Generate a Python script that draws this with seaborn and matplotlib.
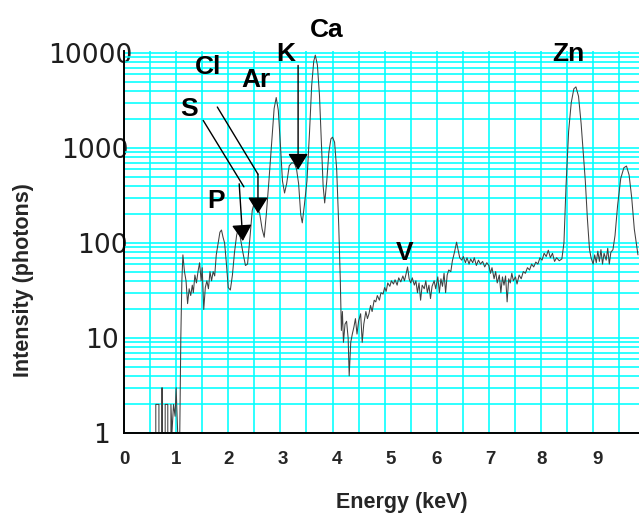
import matplotlib
matplotlib.use("Agg")
import matplotlib.pyplot as plt
import matplotlib.ticker as mticker
import matplotlib.transforms as mtrans
import seaborn as sns
import pandas as pd

# ---- data ----
energy_kev = [
    0.60, 0.61, 0.67, 0.69, 0.73, 0.75, 0.79, 0.84, 0.86, 0.89, 0.90, 0.92, 0.95, 0.98,
    1.00, 1.03, 1.05, 1.07, 1.09, 1.11, 1.13, 1.16, 1.19, 1.22, 1.25, 1.28, 1.31, 1.33,
    1.36, 1.39, 1.42, 1.45, 1.48, 1.50, 1.53, 1.56, 1.59, 1.62, 1.65, 1.68, 1.71, 1.74,
    1.77, 1.80, 1.84, 1.87, 1.90, 1.93, 1.96, 2.00, 2.04, 2.08, 2.12, 2.16, 2.19, 2.23,
    2.28, 2.33, 2.37, 2.42, 2.46, 2.50, 2.55, 2.60, 2.65, 2.69, 2.73, 2.78, 2.83, 2.88,
    2.92, 2.96, 3.00, 3.04, 3.08, 3.12, 3.17, 3.22, 3.27, 3.31, 3.35, 3.39, 3.42, 3.46,
    3.51, 3.56, 3.60, 3.64, 3.67, 3.71, 3.75, 3.79, 3.82, 3.85, 3.89, 3.93, 3.97, 4.00,
    4.04, 4.08, 4.12, 4.15, 4.17, 4.19, 4.21, 4.24, 4.27, 4.30, 4.32, 4.35, 4.38, 4.41,
    4.44, 4.47, 4.50, 4.54, 4.57, 4.60, 4.64, 4.67, 4.70, 4.73, 4.76, 4.80, 4.83, 4.86,
    4.90, 4.93, 4.97, 5.00, 5.03, 5.06, 5.10, 5.13, 5.17, 5.20, 5.24, 5.27, 5.31, 5.35,
    5.38, 5.41, 5.44, 5.47, 5.50, 5.53, 5.57, 5.60, 5.63, 5.66, 5.69, 5.72, 5.76, 5.79,
    5.82, 5.85, 5.88, 5.91, 5.95, 5.98, 6.02, 6.05, 6.08, 6.11, 6.14, 6.17, 6.20, 6.23,
    6.27, 6.30, 6.34, 6.38, 6.41, 6.44, 6.48, 6.51, 6.55, 6.58, 6.62, 6.65, 6.69, 6.72,
    6.76, 6.80, 6.84, 6.88, 6.92, 6.96, 7.00, 7.03, 7.06, 7.10, 7.13, 7.16, 7.20, 7.23,
    7.26, 7.29, 7.32, 7.35, 7.38, 7.41, 7.44, 7.47, 7.51, 7.54, 7.58, 7.62, 7.66, 7.70,
    7.74, 7.78, 7.82, 7.86, 7.90, 7.94, 7.98, 8.02, 8.06, 8.10, 8.14, 8.18, 8.22, 8.26,
    8.30, 8.35, 8.40, 8.44, 8.48, 8.53, 8.58, 8.63, 8.67, 8.72, 8.77, 8.81, 8.85, 8.89,
    8.93, 8.96, 9.00, 9.03, 9.06, 9.09, 9.12, 9.15, 9.18, 9.21, 9.25, 9.28, 9.31, 9.34,
    9.38, 9.42, 9.47, 9.53, 9.59, 9.64, 9.69, 9.74, 9.79, 9.86,
]
intensity_photons = [
    0, 2, 2, 0, 3, 0, 2, 2, 0, 0, 2, 1, 2, 1.5,
    3, 1, 0, 1, 10, 40, 75, 50, 40, 23, 33, 28, 36, 30,
    46, 38, 50, 62, 40, 55, 20, 34, 40, 33, 50, 40, 50, 45,
    75, 95, 130, 137, 115, 100, 65, 34, 32, 46, 80, 120, 140, 115,
    80, 58, 60, 120, 220, 267, 230, 210, 140, 115, 200, 450, 1100, 2600,
    3400, 2500, 1100, 450, 336, 420, 650, 700, 690, 600, 420, 200, 163, 250,
    450, 1500, 4500, 8200, 9500, 7500, 3600, 1000, 400, 264, 450, 900, 1250, 1300,
    1150, 600, 150, 40, 12, 19, 9, 14, 15, 10, 4, 9, 11, 13,
    16, 11, 15, 18, 9, 14, 19, 16, 18, 22, 19, 25, 24, 28,
    25, 30, 29, 34, 31, 38, 35, 40, 37, 41, 36, 43, 39, 45,
    40, 47, 56, 42, 38, 43, 36, 40, 30, 38, 25, 36, 33, 40,
    30, 36, 26, 35, 40, 33, 44, 30, 42, 35, 48, 30, 46, 52,
    50, 65, 80, 102, 85, 70, 66, 72, 62, 70, 60, 68, 62, 70,
    58, 66, 60, 64, 56, 62, 58, 48, 55, 42, 50, 38, 46, 30,
    44, 36, 45, 24, 42, 38, 48, 40, 44, 37, 46, 42, 50, 48,
    55, 52, 60, 56, 63, 60, 70, 66, 78, 72, 84, 70, 78, 64,
    70, 65, 68, 100, 400, 1500, 3000, 4200, 4400, 3500, 1800, 900, 450, 180,
    86, 70, 60, 75, 62, 82, 64, 85, 60, 78, 66, 88, 60, 80,
    85, 120, 250, 480, 620, 646, 520, 300, 140, 75,
]

x_major_ticks = [0, 1, 2, 3, 4, 5, 6, 7, 8, 9]
y_major_ticks = [1, 10, 100, 1000, 10000]
y_tick_labels = ["1", "10", "100", "1000", "10000"]

element_names = ["Ca", "Zn", "K", "Cl", "Ar", "S", "P", "V"]
element_energy = [3.88, 8.53, 3.11, 1.61, 2.53, 1.25, 1.77, 5.39]
element_height = [17500, 9700, 9700, 7100, 5200, 2600, 280, 79]

# leader lines (energies, heights); those in arrow_heads end in a triangle
leader_paths = {
    "K": ([3.34, 3.34], [7400, 590]),
    "Cl": ([1.79, 2.57, 2.57], [2700, 530, 205]),
    "S": ([1.52, 2.30], [1950, 390]),
    "P": ([2.21, 2.28], [420, 105]),
}
arrow_heads = ["K", "Cl", "P"]

sns.set_style("white")
plt.rcParams["font.family"] = ["Liberation Sans", "DejaVu Sans"]

fig = plt.figure(figsize=(6.39, 5.16), dpi=100)
ax = fig.add_axes([124 / 639, 83 / 516, 515 / 639, 382 / 516])

df = pd.DataFrame({"Energy": energy_kev, "Intensity": intensity_photons})
sns.lineplot(data=df, x="Energy", y="Intensity", ax=ax, color="#404040",
             linewidth=0.75, estimator=None, sort=False, zorder=3)
ax.set_yscale("log", nonpositive="clip")
ax.set_xlim(0, 9.88)
ax.set_ylim(1, 10500)

ax.xaxis.set_major_locator(mticker.FixedLocator(x_major_ticks))
ax.xaxis.set_minor_locator(mticker.MultipleLocator(0.5))
ax.yaxis.set_major_locator(mticker.FixedLocator(y_major_ticks))
ax.yaxis.set_minor_locator(mticker.LogLocator(base=10, subs=range(2, 10), numticks=20))
ax.yaxis.set_minor_formatter(mticker.NullFormatter())
ax.set_yticklabels(y_tick_labels)

ax.grid(which="both", color="#00FFFF", linewidth=1.15)
ax.set_axisbelow(True)

for s in ["top", "right"]:
    ax.spines[s].set_visible(False)
for s in ["left", "bottom"]:
    ax.spines[s].set_color("black")
    ax.spines[s].set_linewidth(1.4)
    ax.spines[s].set_zorder(4)

ax.tick_params(axis="x", which="both", direction="out", length=5, width=1.3,
               color="black", pad=8)
ax.tick_params(axis="y", which="major", direction="out", length=6.5, width=1.2,
               color="black", pad=0)
ax.tick_params(axis="y", which="minor", direction="inout", length=5, width=1.0,
               color="black")
for lab in ax.get_xticklabels():
    lab.set_fontsize(13.5)
    lab.set_fontweight("bold")
for lab in ax.get_yticklabels():
    lab.set_fontsize(19.2)
    lab.set_family("DejaVu Sans")
    lab.set_color("#1e1e1e")

# individual label nudges (points) seen in the reference layout
y_label_nudge = [-3.5, 2.5, 9.0, 9.5, 12.5]
x_label_nudge = [0, 0, 0, 2, 3.5, 4, 0, 1, 0.5, 3.5]
for tick, dx in zip(ax.yaxis.get_major_ticks(), y_label_nudge):
    tick.label1.set_transform(tick.label1.get_transform()
                              + mtrans.ScaledTranslation(dx / 72, 0, fig.dpi_scale_trans))
for tick, dx in zip(ax.xaxis.get_major_ticks(), x_label_nudge):
    tick.label1.set_transform(tick.label1.get_transform()
                              + mtrans.ScaledTranslation(dx / 72, 0, fig.dpi_scale_trans))

ax.set_xlabel("Energy (keV)", fontsize=15.5, fontweight="bold")
ax.set_ylabel("Intensity (photons)", fontsize=15.5, fontweight="bold")
ax.xaxis.set_label_coords(0.54, -0.183)
ax.xaxis.label.set_va("center")
ax.yaxis.set_label_coords(-0.196, 0.40)
ax.yaxis.label.set_va("center")

for name, ex, ey in zip(element_names, element_energy, element_height):
    ax.text(ex, ey, name, ha="center", va="center", fontsize=19,
            fontweight="bold", color="black", clip_on=False, zorder=6)

for key, (xs, ys) in leader_paths.items():
    if key in arrow_heads:
        if len(xs) > 2:
            ax.plot(xs[:-1], ys[:-1], color="black", lw=1.0, clip_on=False, zorder=5)
        ax.annotate("", xy=(xs[-1], ys[-1]), xytext=(xs[-2], ys[-2]),
                    arrowprops=dict(arrowstyle="-|>,head_length=1.0,head_width=0.62",
                                    mutation_scale=10, color="black", lw=1.0,
                                    shrinkA=0, shrinkB=0),
                    zorder=5, annotation_clip=False)
    else:
        ax.plot(xs, ys, color="black", lw=1.0, clip_on=False, zorder=5)

fig.savefig("out.png", dpi=100)
